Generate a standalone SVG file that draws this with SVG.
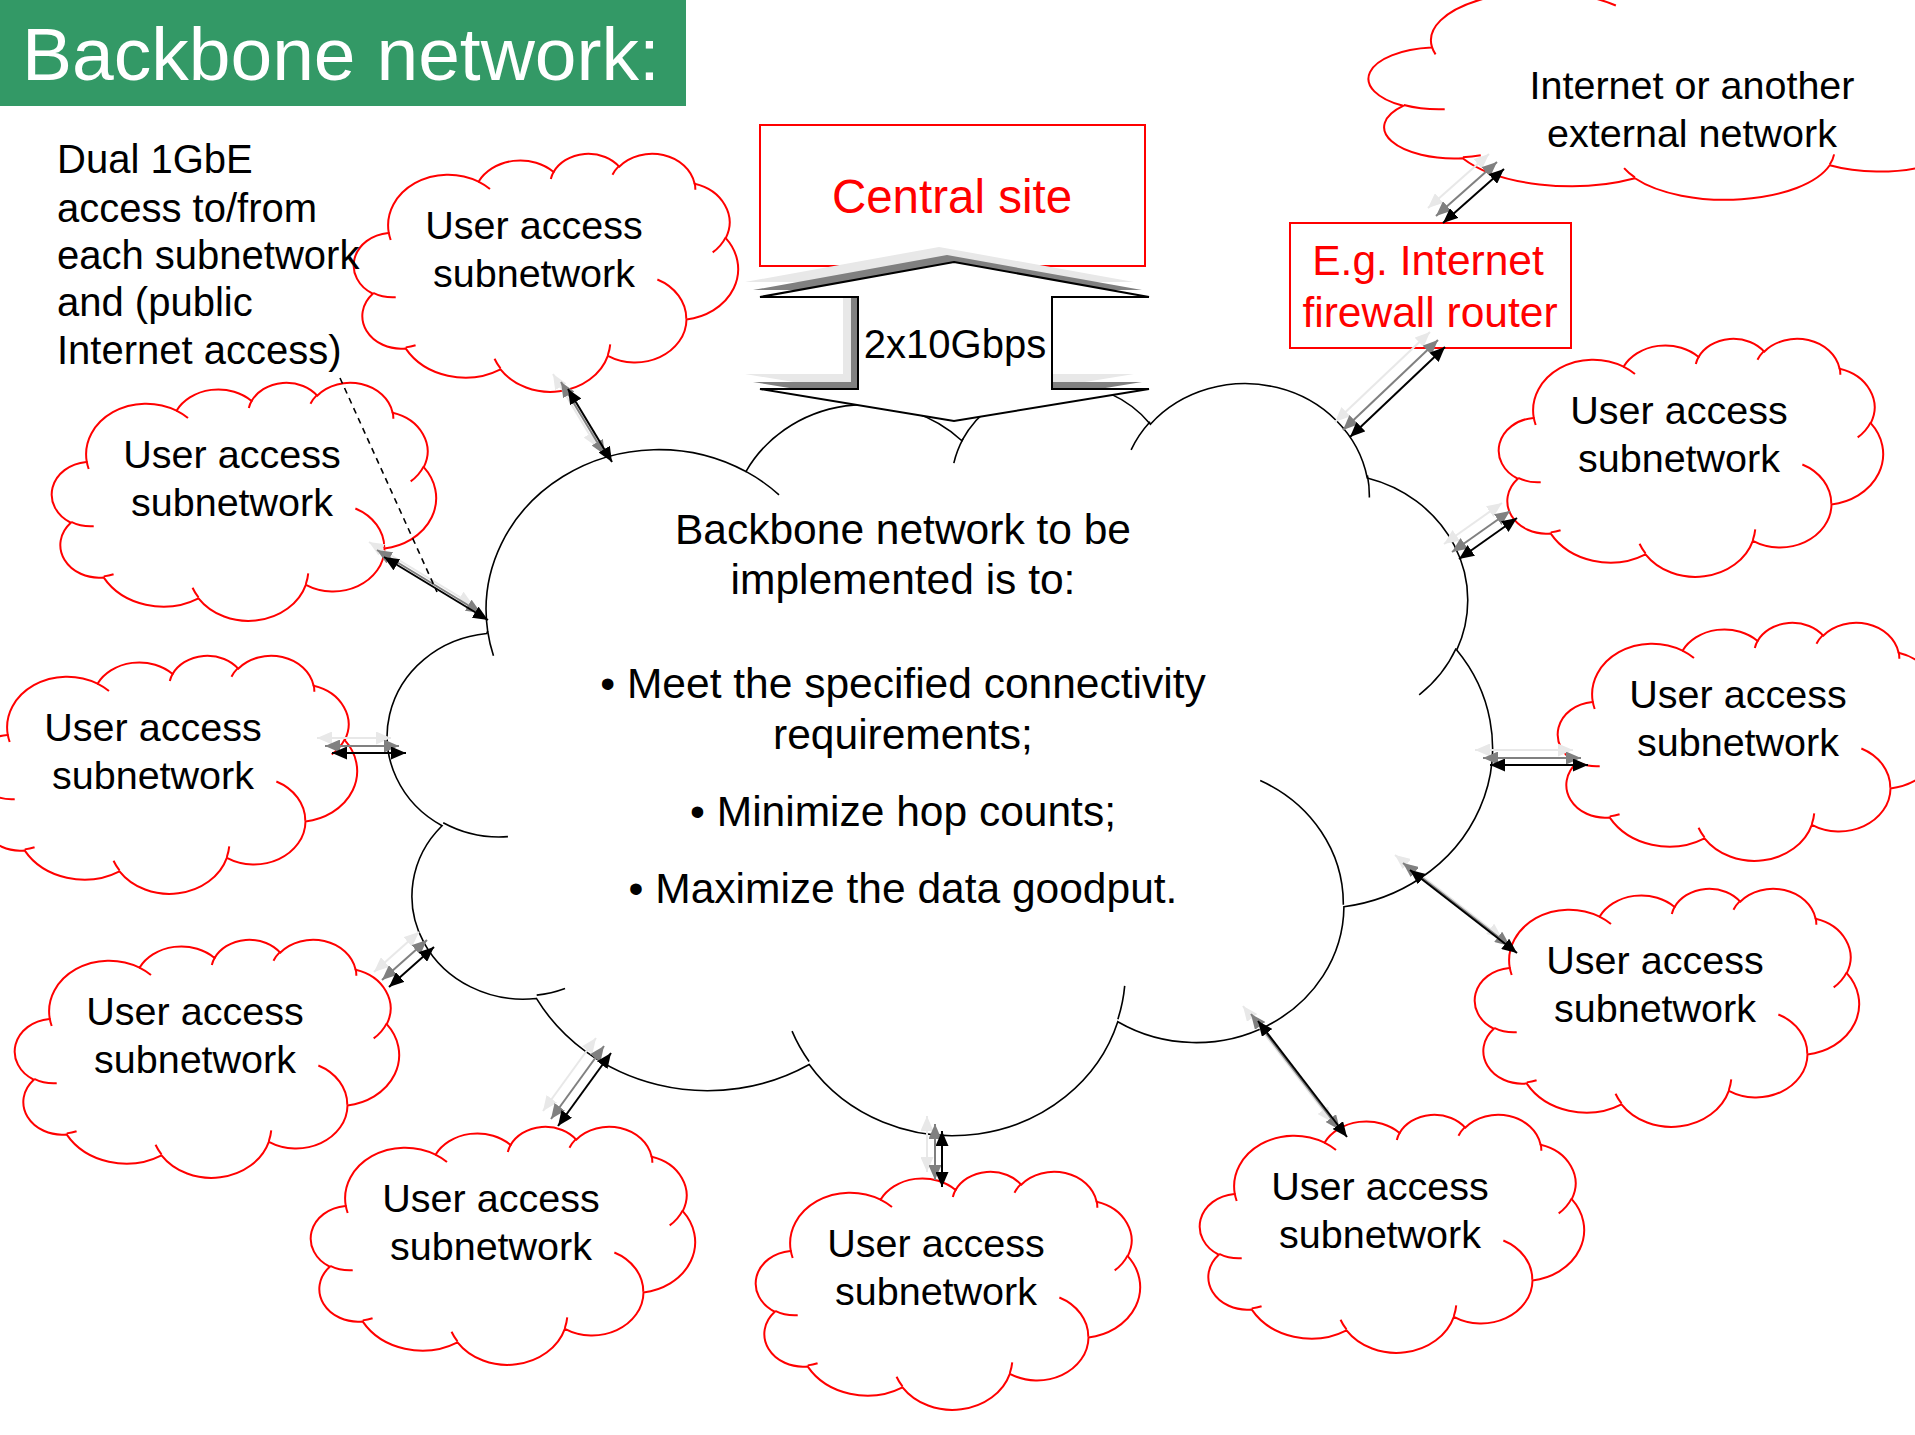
<svg xmlns="http://www.w3.org/2000/svg" xmlns:xlink="http://www.w3.org/1999/xlink" width="1915" height="1435" viewBox="0 0 1915 1435">
  <style>
    text { font-family: "Liberation Sans", Arial, Helvetica, sans-serif; }
    .ua { fill: #fff; stroke: #f00; stroke-width: 2; }
    .ua text, .ext text { fill: #000; stroke: none; font-size: 39.5px; text-anchor: middle; }
    .ext { fill: #fff; stroke: #f00; stroke-width: 2; }
    .bb { fill: #fff; stroke: #000; stroke-width: 1.6; }
    .bb text { fill: #000; stroke: none; font-size: 42.5px; text-anchor: middle; }
    .box { fill: #fff; stroke: #f00; stroke-width: 2; }
    .redlabel { fill: #f00; text-anchor: middle; }
    .note { fill: #000; font-size: 40px; }
    .sh1 { stroke: #e8e8e8; stroke-width: 2; fill: none; marker-start: url(#ah-l); marker-end: url(#ah-l); }
    .sh2 { stroke: #808080; stroke-width: 2; fill: none; marker-start: url(#ah-d); marker-end: url(#ah-d); }
    .main { stroke: #000; stroke-width: 2; fill: none; marker-start: url(#ah-k); marker-end: url(#ah-k); }
    .dash { stroke: #000; stroke-width: 1.6; stroke-dasharray: 6 5; fill: none; }
  </style>
  <defs>
    <!-- cloud outline in a 43200 x 43200 unit box -->
    <path id="cloud-outline" vector-effect="non-scaling-stroke" d="M3900 14370 A6753 9190 0 0 1 14005 5202 A5333 7267 0 0 1 22456 3432 A4365 5945 0 0 1 29834 2482 A4857 6595 0 0 1 38319 5576 A5333 7273 0 0 1 41819 15460 A6775 9220 0 0 1 37405 30202 A5785 7867 0 0 1 28556 36813 A6752 9215 0 0 1 16482 39265 A7720 10543 0 0 1 5806 35471 A4360 5918 0 0 1 2115 25548 A4345 5945 0 0 1 3865 14504 Z"/>
    <!-- the small overlap folds drawn inside the cloud -->
    <path id="cloud-folds" fill="none" vector-effect="non-scaling-stroke" d="M4693 26177 A4345 5945 0 0 1 2160 25380 M6928 34899 A4360 5918 0 0 1 5819 35281 M16478 39090 A6752 9215 0 0 1 15810 37348 M28827 34751 A6752 9215 0 0 1 28560 36660 M34129 22954 A5785 7867 0 0 1 37381 30090 M41798 15354 A5333 7273 0 0 1 40350 18030 M38324 5426 A4857 6595 0 0 1 38400 6690 M29078 3952 A4857 6595 0 0 1 29820 2340 M22141 4720 A4365 5945 0 0 1 22500 3331 M14000 5192 A6753 9190 0 0 1 15300 6541 M4127 15789 A6753 9190 0 0 1 3900 14371"/>
    <marker id="ah-k" viewBox="0 0 15 13" refX="15" refY="6.5" markerWidth="15" markerHeight="13" markerUnits="userSpaceOnUse" orient="auto-start-reverse">
      <path d="M0 0 L15 6.5 L0 13 Z" fill="#000"/>
    </marker>
    <marker id="ah-d" viewBox="0 0 15 13" refX="15" refY="6.5" markerWidth="15" markerHeight="13" markerUnits="userSpaceOnUse" orient="auto-start-reverse">
      <path d="M0 0 L15 6.5 L0 13 Z" fill="#808080"/>
    </marker>
    <marker id="ah-l" viewBox="0 0 15 13" refX="15" refY="6.5" markerWidth="15" markerHeight="13" markerUnits="userSpaceOnUse" orient="auto-start-reverse">
      <path d="M0 0 L15 6.5 L0 13 Z" fill="#e8e8e8"/>
    </marker>
    <polygon id="updown" points="954,262 1149,297 1052,297 1052,389 1149,389 954,421 760,389 858,389 858,297 760,297"/>
  </defs>

  <rect width="1915" height="1435" fill="#fff"/>

  <!-- title bar -->
  <g id="title">
    <rect x="0" y="0" width="686" height="106" fill="#339966"/>
    <text x="22" y="80" font-size="75" fill="#fff">Backbone network:</text>
  </g>

  <!-- backbone cloud -->
  <g id="backbone" class="bb">
    <g transform="translate(388 381) scale(0.025556 0.017407)">
      <use href="#cloud-outline"/>
      <use href="#cloud-folds"/>
    </g>
    <text x="903" y="544">Backbone network to be</text>
    <text x="903" y="594">implemented is to:</text>
    <text x="903" y="698">• Meet the specified connectivity</text>
    <text x="903" y="749">requirements;</text>
    <text x="903" y="826">• Minimize hop counts;</text>
    <text x="903" y="903">• Maximize the data goodput.</text>
  </g>

  <!-- central site -->
  <g id="central-site">
    <rect class="box" x="760" y="125" width="385" height="141"/>
    <text class="redlabel" x="952" y="213" font-size="47.5">Central site</text>
  </g>

  <!-- 2x10Gbps up-down link with its shadow -->
  <g id="central-link">
    <use href="#updown" transform="translate(-15 -15)" fill="#e8e8e8"/>
    <use href="#updown" transform="translate(-7 -7)" fill="#808080"/>
    <use href="#updown" fill="#fff" stroke="#000" stroke-width="2" stroke-linejoin="miter"/>
    <text x="955" y="358" font-size="40" text-anchor="middle" fill="#000">2x10Gbps</text>
  </g>

  <!-- external network -->
  <g id="external" class="ext">
    <g transform="translate(1369 -29) scale(0.016134 0.0052778)">
      <use href="#cloud-outline"/>
      <use href="#cloud-folds"/>
    </g>
    <text x="1692" y="99">Internet or another</text>
    <text x="1692" y="147">external network</text>
  </g>

  <!-- firewall router -->
  <g id="router">
    <rect class="box" x="1290" y="223" width="281" height="125"/>
    <text class="redlabel" x="1428" y="275" font-size="42.5">E.g. Internet</text>
    <text class="redlabel" x="1430" y="327" font-size="42.5">firewall router</text>
  </g>

  <!-- user access subnetworks -->
  <g id="ua-1" class="ua">
    <g transform="translate(354 153) scale(0.0088889 0.0055093)"><use href="#cloud-outline"/><use href="#cloud-folds"/></g>
    <text x="534" y="239">User access</text><text x="534" y="287">subnetwork</text>
  </g>
  <g id="ua-2" class="ua">
    <g transform="translate(52 382) scale(0.0088889 0.0055093)"><use href="#cloud-outline"/><use href="#cloud-folds"/></g>
    <text x="232" y="468">User access</text><text x="232" y="516">subnetwork</text>
  </g>
  <g id="ua-3" class="ua">
    <g transform="translate(-27 655) scale(0.0088889 0.0055093)"><use href="#cloud-outline"/><use href="#cloud-folds"/></g>
    <text x="153" y="741">User access</text><text x="153" y="789">subnetwork</text>
  </g>
  <g id="ua-4" class="ua">
    <g transform="translate(15 939) scale(0.0088889 0.0055093)"><use href="#cloud-outline"/><use href="#cloud-folds"/></g>
    <text x="195" y="1025">User access</text><text x="195" y="1073">subnetwork</text>
  </g>
  <g id="ua-5" class="ua">
    <g transform="translate(311 1126) scale(0.0088889 0.0055093)"><use href="#cloud-outline"/><use href="#cloud-folds"/></g>
    <text x="491" y="1212">User access</text><text x="491" y="1260">subnetwork</text>
  </g>
  <g id="ua-6" class="ua">
    <g transform="translate(756 1171) scale(0.0088889 0.0055093)"><use href="#cloud-outline"/><use href="#cloud-folds"/></g>
    <text x="936" y="1257">User access</text><text x="936" y="1305">subnetwork</text>
  </g>
  <g id="ua-7" class="ua">
    <g transform="translate(1200 1114) scale(0.0088889 0.0055093)"><use href="#cloud-outline"/><use href="#cloud-folds"/></g>
    <text x="1380" y="1200">User access</text><text x="1380" y="1248">subnetwork</text>
  </g>
  <g id="ua-8" class="ua">
    <g transform="translate(1475 888) scale(0.0088889 0.0055093)"><use href="#cloud-outline"/><use href="#cloud-folds"/></g>
    <text x="1655" y="974">User access</text><text x="1655" y="1022">subnetwork</text>
  </g>
  <g id="ua-9" class="ua">
    <g transform="translate(1558 622) scale(0.0088889 0.0055093)"><use href="#cloud-outline"/><use href="#cloud-folds"/></g>
    <text x="1738" y="708">User access</text><text x="1738" y="756">subnetwork</text>
  </g>
  <g id="ua-10" class="ua">
    <g transform="translate(1499 338) scale(0.0088889 0.0055093)"><use href="#cloud-outline"/><use href="#cloud-folds"/></g>
    <text x="1679" y="424">User access</text><text x="1679" y="472">subnetwork</text>
  </g>

  <!-- access note -->
  <g id="access-note">
    <text class="note" x="57" y="173">Dual 1GbE</text>
    <text class="note" x="57" y="222">access to/from</text>
    <text class="note" x="57" y="269">each subnetwork</text>
    <text class="note" x="57" y="316">and (public</text>
    <text class="note" x="57" y="364">Internet access)</text>
  </g>

  <!-- links: each drawn with two shadow copies under the black line -->
  <g id="connectors">
    <g id="link-ua1"><line class="sh1" transform="translate(-15 -15)" x1="568" y1="389" x2="612" y2="462"/><line class="sh2" transform="translate(-7 -7)" x1="568" y1="389" x2="612" y2="462"/><line class="main" x1="568" y1="389" x2="612" y2="462"/></g>
    <g id="link-ua2"><line class="sh1" transform="translate(-15 -15)" x1="384" y1="557" x2="488" y2="620"/><line class="sh2" transform="translate(-7 -7)" x1="384" y1="557" x2="488" y2="620"/><line class="main" x1="384" y1="557" x2="488" y2="620"/></g>
    <g id="link-ua3"><line class="sh1" transform="translate(-15 -15)" x1="332" y1="753" x2="406" y2="753"/><line class="sh2" transform="translate(-7 -7)" x1="332" y1="753" x2="406" y2="753"/><line class="main" x1="332" y1="753" x2="406" y2="753"/></g>
    <g id="link-ua4"><line class="sh1" transform="translate(-15 -15)" x1="389" y1="987" x2="434" y2="947"/><line class="sh2" transform="translate(-7 -7)" x1="389" y1="987" x2="434" y2="947"/><line class="main" x1="389" y1="987" x2="434" y2="947"/></g>
    <g id="link-ua5"><line class="sh1" transform="translate(-15 -15)" x1="558" y1="1126" x2="611" y2="1053"/><line class="sh2" transform="translate(-7 -7)" x1="558" y1="1126" x2="611" y2="1053"/><line class="main" x1="558" y1="1126" x2="611" y2="1053"/></g>
    <g id="link-ua6"><line class="sh1" transform="translate(-15 -15)" x1="942" y1="1131" x2="942" y2="1187"/><line class="sh2" transform="translate(-7 -7)" x1="942" y1="1131" x2="942" y2="1187"/><line class="main" x1="942" y1="1131" x2="942" y2="1187"/></g>
    <g id="link-ua7"><line class="sh1" transform="translate(-15 -15)" x1="1258" y1="1021" x2="1347" y2="1137"/><line class="sh2" transform="translate(-7 -7)" x1="1258" y1="1021" x2="1347" y2="1137"/><line class="main" x1="1258" y1="1021" x2="1347" y2="1137"/></g>
    <g id="link-ua8"><line class="sh1" transform="translate(-15 -15)" x1="1410" y1="870" x2="1517" y2="953"/><line class="sh2" transform="translate(-7 -7)" x1="1410" y1="870" x2="1517" y2="953"/><line class="main" x1="1410" y1="870" x2="1517" y2="953"/></g>
    <g id="link-ua9"><line class="sh1" transform="translate(-15 -15)" x1="1490" y1="765" x2="1588" y2="765"/><line class="sh2" transform="translate(-7 -7)" x1="1490" y1="765" x2="1588" y2="765"/><line class="main" x1="1490" y1="765" x2="1588" y2="765"/></g>
    <g id="link-ua10"><line class="sh1" transform="translate(-15 -15)" x1="1459" y1="559" x2="1517" y2="518"/><line class="sh2" transform="translate(-7 -7)" x1="1459" y1="559" x2="1517" y2="518"/><line class="main" x1="1459" y1="559" x2="1517" y2="518"/></g>
    <g id="link-router"><line class="sh1" transform="translate(-15 -15)" x1="1350" y1="437" x2="1445" y2="347"/><line class="sh2" transform="translate(-7 -7)" x1="1350" y1="437" x2="1445" y2="347"/><line class="main" x1="1350" y1="437" x2="1445" y2="347"/></g>
    <g id="link-external"><line class="sh1" transform="translate(-15 -15)" x1="1443" y1="223" x2="1504" y2="169"/><line class="sh2" transform="translate(-7 -7)" x1="1443" y1="223" x2="1504" y2="169"/><line class="main" x1="1443" y1="223" x2="1504" y2="169"/></g>
    <line id="note-pointer" class="dash" x1="340" y1="378" x2="437" y2="592"/>
  </g>
</svg>
